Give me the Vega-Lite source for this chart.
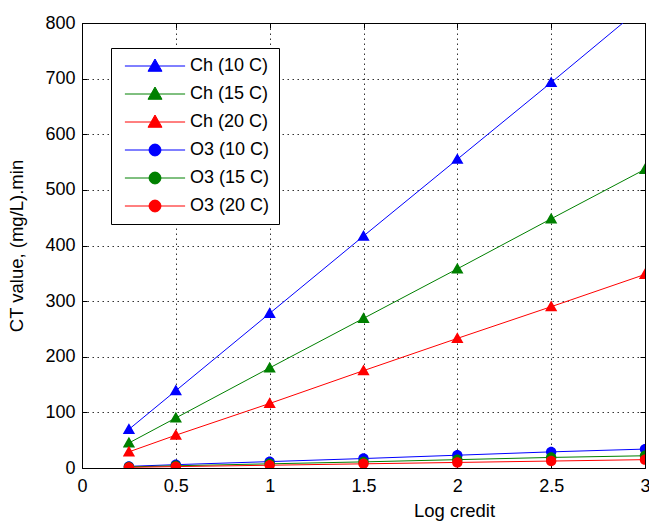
{
  "$schema": "https://vega.github.io/schema/vega-lite/v6.json",
  "width": 563,
  "height": 445,
  "autosize": "none",
  "padding": {"left": 82, "top": 23, "right": 4, "bottom": 53},
  "background": "white",
  "config": {
    "font": "Liberation Sans",
    "view": {"stroke": "black", "strokeWidth": 1},
    "axis": {
      "domain": false,
      "tickColor": "black",
      "tickSize": -5,
      "labelFlush": false,
      "labelColor": "black",
      "labelFont": "Liberation Sans",
      "labelFontSize": 18,
      "titleFont": "Liberation Sans",
      "titleFontSize": 18.5,
      "titleFontWeight": "normal",
      "titleColor": "black",
      "gridColor": "black",
      "gridDash": [1.5, 3.5],
      "gridOpacity": 0.8,
      "gridWidth": 1
    },
    "legend": {
      "labelFont": "Liberation Sans"
    }
  },
  "data": {
    "values": [
      {"series": "Ch (10 C)", "x": 0.25, "y": 69.5},
      {"series": "Ch (10 C)", "x": 0.5, "y": 139},
      {"series": "Ch (10 C)", "x": 1, "y": 278},
      {"series": "Ch (10 C)", "x": 1.5, "y": 417},
      {"series": "Ch (10 C)", "x": 2, "y": 555},
      {"series": "Ch (10 C)", "x": 2.5, "y": 693},
      {"series": "Ch (10 C)", "x": 3, "y": 833},
      {"series": "Ch (15 C)", "x": 0.25, "y": 45},
      {"series": "Ch (15 C)", "x": 0.5, "y": 90},
      {"series": "Ch (15 C)", "x": 1, "y": 180},
      {"series": "Ch (15 C)", "x": 1.5, "y": 269},
      {"series": "Ch (15 C)", "x": 2, "y": 358},
      {"series": "Ch (15 C)", "x": 2.5, "y": 448},
      {"series": "Ch (15 C)", "x": 3, "y": 537},
      {"series": "Ch (20 C)", "x": 0.25, "y": 29},
      {"series": "Ch (20 C)", "x": 0.5, "y": 59},
      {"series": "Ch (20 C)", "x": 1, "y": 116},
      {"series": "Ch (20 C)", "x": 1.5, "y": 175},
      {"series": "Ch (20 C)", "x": 2, "y": 233},
      {"series": "Ch (20 C)", "x": 2.5, "y": 290},
      {"series": "Ch (20 C)", "x": 3, "y": 348},
      {"series": "O3 (10 C)", "x": 0.25, "y": 3},
      {"series": "O3 (10 C)", "x": 0.5, "y": 6},
      {"series": "O3 (10 C)", "x": 1, "y": 11.5},
      {"series": "O3 (10 C)", "x": 1.5, "y": 17},
      {"series": "O3 (10 C)", "x": 2, "y": 23},
      {"series": "O3 (10 C)", "x": 2.5, "y": 29},
      {"series": "O3 (10 C)", "x": 3, "y": 34},
      {"series": "O3 (15 C)", "x": 0.25, "y": 2},
      {"series": "O3 (15 C)", "x": 0.5, "y": 4},
      {"series": "O3 (15 C)", "x": 1, "y": 7.5},
      {"series": "O3 (15 C)", "x": 1.5, "y": 11},
      {"series": "O3 (15 C)", "x": 2, "y": 15},
      {"series": "O3 (15 C)", "x": 2.5, "y": 19},
      {"series": "O3 (15 C)", "x": 3, "y": 22},
      {"series": "O3 (20 C)", "x": 0.25, "y": 1.2},
      {"series": "O3 (20 C)", "x": 0.5, "y": 2.5},
      {"series": "O3 (20 C)", "x": 1, "y": 5},
      {"series": "O3 (20 C)", "x": 1.5, "y": 7.5},
      {"series": "O3 (20 C)", "x": 2, "y": 10},
      {"series": "O3 (20 C)", "x": 2.5, "y": 12.5},
      {"series": "O3 (20 C)", "x": 3, "y": 15}
    ]
  },
  "layer": [
    {
      "mark": {"type": "line", "clip": true, "strokeWidth": 1},
      "encoding": {
        "x": {
          "field": "x", "type": "quantitative",
          "scale": {"domain": [0, 3], "nice": false, "zero": false},
          "axis": {
            "orient": "bottom",
            "values": [0, 0.5, 1, 1.5, 2, 2.5, 3],
            "format": "~g",
            "grid": true,
            "labelPadding": 14,
            "title": "Log credit",
            "titleX": 372,
            "titleY": 48,
            "titleAlign": "center",
            "titleBaseline": "alphabetic"
          }
        },
        "y": {
          "field": "y", "type": "quantitative",
          "scale": {"domain": [0, 800], "nice": false},
          "axis": {
            "orient": "left",
            "values": [0, 100, 200, 300, 400, 500, 600, 700, 800],
            "format": "d",
            "grid": true,
            "labelPadding": 12,
            "title": "CT value, (mg/L).min",
            "titlePadding": 18
          }
        },
        "color": {
          "field": "series", "type": "nominal",
          "scale": {
            "domain": ["Ch (10 C)", "Ch (15 C)", "Ch (20 C)", "O3 (10 C)", "O3 (15 C)", "O3 (20 C)"],
            "range": ["#0000ff", "#008000", "#ff0000", "#0000ff", "#008000", "#ff0000"]
          },
          "legend": {
            "title": null,
            "orient": "none",
            "legendX": 29,
            "legendY": 25,
            "padding": 9,
            "strokeColor": "black",
            "fillColor": "white",
            "labelFontSize": 18,
            "labelColor": "black",
            "labelOffset": 26,
            "symbolOffset": 26,
            "symbolSize": 196,
            "rowPadding": 10,
            "encode": {
              "symbols": {
                "update": {
                  "stroke": {"scale": "color", "field": "value"},
                  "strokeWidth": {"value": 1},
                  "opacity": {"value": 1}
                }
              }
            }
          }
        },
        "detail": {"field": "series", "type": "nominal"}
      }
    },
    {
      "mark": {"type": "point", "filled": true, "clip": true, "size": 150, "strokeWidth": 0, "opacity": 1},
      "encoding": {
        "x": {
          "field": "x", "type": "quantitative",
          "axis": {"orient": "top", "values": [0, 0.5, 1, 1.5, 2, 2.5, 3], "labels": false, "grid": false, "title": null}
        },
        "y": {
          "field": "y", "type": "quantitative",
          "axis": {"orient": "right", "values": [0, 100, 200, 300, 400, 500, 600, 700, 800], "labels": false, "grid": false, "title": null}
        },
        "color": {
          "field": "series", "type": "nominal",
          "scale": {
            "domain": ["Ch (10 C)", "Ch (15 C)", "Ch (20 C)", "O3 (10 C)", "O3 (15 C)", "O3 (20 C)"],
            "range": ["#0000ff", "#008000", "#ff0000", "#0000ff", "#008000", "#ff0000"]
          },
          "legend": {
            "title": null,
            "orient": "none",
            "legendX": 29,
            "legendY": 25,
            "padding": 9,
            "strokeColor": "black",
            "fillColor": "white",
            "labelFontSize": 18,
            "labelColor": "black",
            "labelOffset": 26,
            "symbolOffset": 26,
            "symbolSize": 196,
            "rowPadding": 10,
            "encode": {
              "symbols": {
                "update": {
                  "stroke": {"scale": "color", "field": "value"},
                  "strokeWidth": {"value": 1},
                  "opacity": {"value": 1}
                }
              }
            }
          }
        },
        "shape": {
          "field": "series", "type": "nominal",
          "scale": {
            "domain": ["Ch (10 C)", "Ch (15 C)", "Ch (20 C)", "O3 (10 C)", "O3 (15 C)", "O3 (20 C)"],
            "range": [
              "M0,-1L1,0.75L-1,0.75Z M-4.3,0H4.3",
              "M0,-1L1,0.75L-1,0.75Z M-4.3,0H4.3",
              "M0,-1L1,0.75L-1,0.75Z M-4.3,0H4.3",
              "M0.85,0A0.85,0.85,0,1,1,-0.85,0A0.85,0.85,0,1,1,0.85,0Z M-4.3,0H4.3",
              "M0.85,0A0.85,0.85,0,1,1,-0.85,0A0.85,0.85,0,1,1,0.85,0Z M-4.3,0H4.3",
              "M0.85,0A0.85,0.85,0,1,1,-0.85,0A0.85,0.85,0,1,1,0.85,0Z M-4.3,0H4.3"
            ]
          },
          "legend": {
            "title": null,
            "orient": "none",
            "legendX": 29,
            "legendY": 25,
            "padding": 9,
            "strokeColor": "black",
            "fillColor": "white",
            "labelFontSize": 18,
            "labelColor": "black",
            "labelOffset": 26,
            "symbolOffset": 26,
            "symbolSize": 196,
            "rowPadding": 10,
            "encode": {
              "symbols": {
                "update": {
                  "stroke": {"scale": "color", "field": "value"},
                  "strokeWidth": {"value": 1},
                  "opacity": {"value": 1}
                }
              }
            }
          }
        }
      }
    }
  ],
  "resolve": {"axis": {"x": "independent", "y": "independent"}}
}
